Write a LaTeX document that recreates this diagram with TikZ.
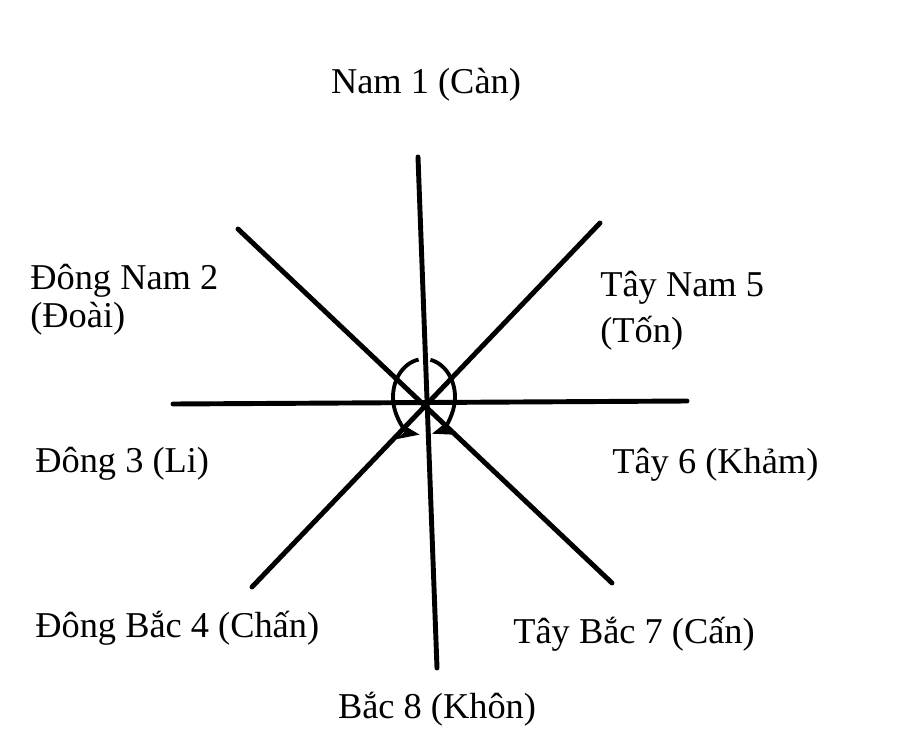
\documentclass[tikz,border=0pt]{standalone}
\usepackage{fontspec}
\setmainfont{Liberation Serif}
\usetikzlibrary{arrows.meta}

\begin{document}
\begin{tikzpicture}[x=0.02cm,y=-0.02cm,>=Stealth,
		ray/.style={line width=2.8pt,line cap=round},
		lbl/.style={inner sep=0pt,anchor=base west,align=left,font=\fontsize{20.7}{25}\selectfont}]
		
		% page
		\useasboundingbox (0,0) rectangle (910,744);
		
		% ends of the eight directions
		\coordinate (nam) at (418,157);
		\coordinate (bac) at (437,668);
		\coordinate (dong) at (173,404);
		\coordinate (tay) at (687,401);
		\coordinate (dnam) at (238,229);
		\coordinate (tbac) at (612,583);
		\coordinate (tnam) at (600,223);
		\coordinate (dbac) at (252,587);
		\coordinate (tam) at (424,397);
		
		% lines
		\draw[ray] (nam) -- (bac);
		\draw[ray] (dong) -- (tay);
		\draw[ray] (dnam) -- (tbac);
		\draw[ray] (tnam) -- (dbac);
		
		% turning arrow round the centre
		\draw[line width=2.2pt,->,shift={(tam)}] (100:0.62cm and 0.76cm)
			arc[start angle=100,end angle=262,x radius=0.62cm,y radius=0.76cm];
		\draw[line width=2.2pt,->,shift={(tam)}] (78:0.62cm and 0.76cm)
			arc[start angle=78,end angle=-75,x radius=0.62cm,y radius=0.76cm];
		
		% labels
		\node[lbl,anchor=base] (l1) at (426,93) {Nam 1 (Càn)};
		\node[lbl] (l2) at (30,327) {Đông Nam 2\\[-3.8pt](Đoài)};
		\node[lbl] (l3) at (35,472) {Đông 3 (Li)};
		\node[lbl] (l4) at (35,637) {Đông Bắc 4 (Chấn)};
		\node[lbl] (l5) at (600,342) {Tây Nam 5\\[0.8pt](Tốn)};
		\node[lbl] (l6) at (612,473) {Tây 6 (Khảm)};
		\node[lbl] (l7) at (513,643) {Tây Bắc 7 (Cấn)};
		\node[lbl,anchor=base] (l8) at (437,718) {Bắc 8 (Khôn)};
		
	\end{tikzpicture}
\end{document}
